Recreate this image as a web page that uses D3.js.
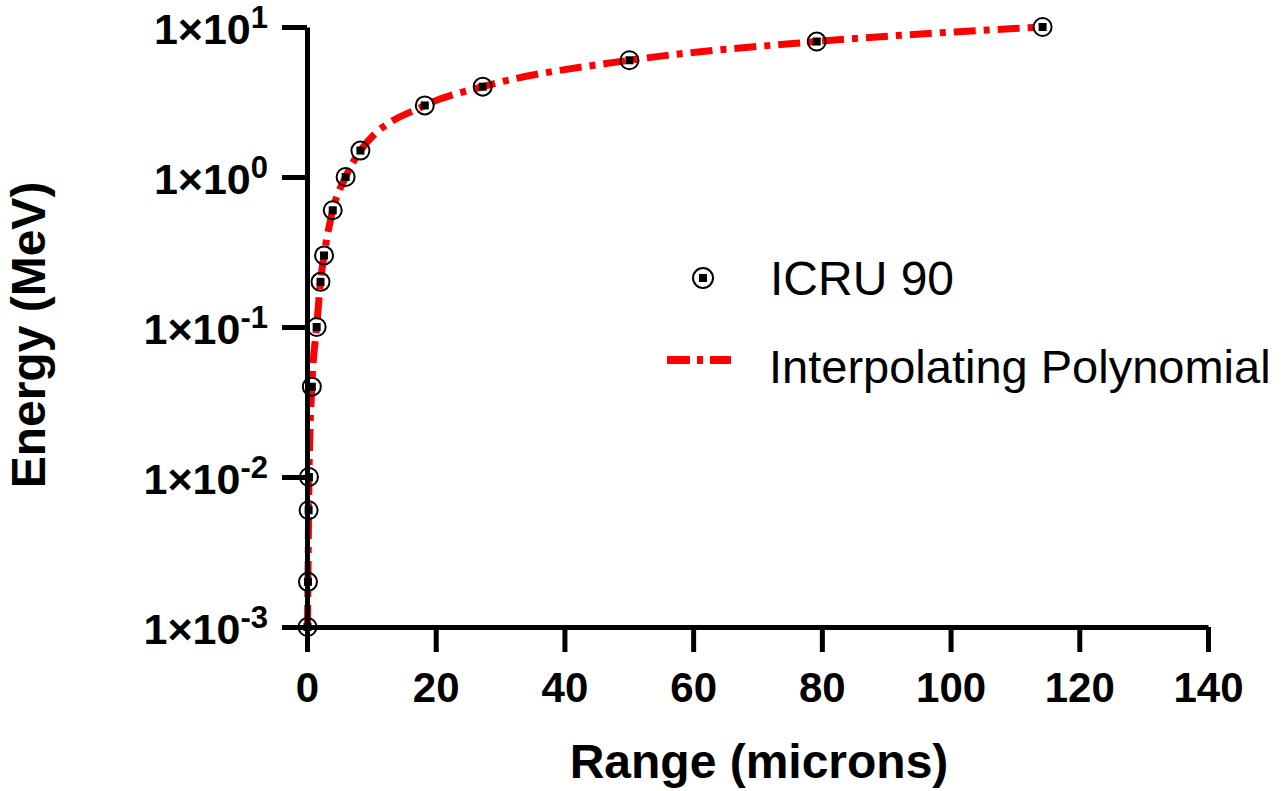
<!DOCTYPE html>
<html>
<head>
<meta charset="utf-8">
<script src="https://cdn.jsdelivr.net/npm/d3@7"></script>
<style>
  html, body { margin: 0; padding: 0; background: #fff; }
  svg { display: block; font-family: "Liberation Sans", Arial, Helvetica, sans-serif; }
</style>
</head>
<body>
<svg id="chart" width="1284" height="791"></svg>
<script>
// ---- Data ----
const energyMeV = [0.001, 0.002, 0.006, 0.01, 0.04, 0.1, 0.2, 0.3, 0.6, 1, 1.5, 3, 4, 6, 8, 10];
const rangeMicrons = [0.08, 0.15, 0.25, 0.3, 0.75, 1.5, 2.1, 2.65, 4.0, 6.0, 8.3, 18.3, 27.3, 50.1, 79.2, 114.3];
const xTicks = [0, 20, 40, 60, 80, 100, 120, 140];
const yTicks = [0.001, 0.01, 0.1, 1, 10];
const yTickExponents = ["-3", "-2", "-1", "0", "1"];
const seriesNames = ["ICRU 90", "Interpolating Polynomial"];

const points = energyMeV.map((e, i) => ({ e, r: rangeMicrons[i] }));

const svg = d3.select("#chart");
const x = d3.scaleLinear().domain([0, 140]).range([307, 1208]);
const y = d3.scaleLog().domain([0.001, 10]).range([627, 27]);

// Interpolating curve (under axes)
const line = d3.line()
  .x(d => x(d.r))
  .y(d => y(d.e))
  .curve(d3.curveMonotoneX);

svg.append("path")
  .datum(points)
  .attr("d", line)
  .attr("fill", "none")
  .attr("stroke", "#ff0000")
  .attr("stroke-width", 7)
  .attr("stroke-dasharray", "22,8,6,8");

// Axes
const xAxis = d3.axisBottom(x).tickValues(xTicks).tickSize(25).tickSizeOuter(0).tickPadding(10);
const yAxis = d3.axisLeft(y).tickValues(yTicks).tickSize(25).tickSizeOuter(0).tickPadding(14)
  .tickFormat(() => "");

const gx = svg.append("g").attr("transform", `translate(0,${y(0.001)})`).call(xAxis);
const gy = svg.append("g").attr("transform", `translate(${x(0)},0)`).call(yAxis);

[gx, gy].forEach(g => {
  g.select(".domain").attr("stroke", "#000").attr("stroke-width", 5);
  g.selectAll(".tick line").attr("stroke", "#000").attr("stroke-width", 5);
});

gx.selectAll(".tick text")
  .attr("fill", "#000")
  .attr("font-size", 42)
  .attr("font-weight", "bold")
  .attr("font-family", "'Liberation Sans', Arial, sans-serif")
  .attr("dy", "0.95em");

gy.selectAll(".tick text")
  .attr("fill", "#000")
  .attr("font-weight", "bold")
  .attr("font-family", "'Liberation Sans', Arial, sans-serif")
  .attr("dy", null)
  .attr("y", 16)
  .each(function(d, i) {
    const t = d3.select(this);
    t.text(null);
    t.append("tspan").attr("font-size", 43).text("1×10");
    t.append("tspan").attr("font-size", 31).attr("dy", -16).text(yTickExponents[i]);
  });

// Markers (on top of axes)
const mk = svg.append("g");
mk.selectAll("circle")
  .data(points)
  .join("circle")
  .attr("cx", d => x(d.r))
  .attr("cy", d => y(d.e))
  .attr("r", 9)
  .attr("fill", "none")
  .attr("stroke", "#000")
  .attr("stroke-width", 2);
mk.selectAll("rect")
  .data(points)
  .join("rect")
  .attr("x", d => x(d.r) - 4)
  .attr("y", d => y(d.e) - 4)
  .attr("width", 8)
  .attr("height", 8)
  .attr("fill", "#000");

// Axis titles
svg.append("text")
  .attr("x", 759).attr("y", 778)
  .attr("text-anchor", "middle")
  .attr("font-size", 48).attr("font-weight", "bold")
  .text("Range (microns)");

svg.append("text")
  .attr("transform", "translate(45,335) rotate(-90)")
  .attr("text-anchor", "middle")
  .attr("font-size", 48).attr("font-weight", "bold")
  .text("Energy (MeV)");

// Legend
const lg = svg.append("g");
lg.append("circle").attr("cx", 703).attr("cy", 278).attr("r", 10)
  .attr("fill", "none").attr("stroke", "#000").attr("stroke-width", 2);
lg.append("rect").attr("x", 699).attr("y", 274).attr("width", 8).attr("height", 8).attr("fill", "#000");
lg.append("text").attr("x", 770).attr("y", 295).attr("font-size", 48).text(seriesNames[0]);

lg.append("line").attr("x1", 667).attr("x2", 731).attr("y1", 360).attr("y2", 360)
  .attr("stroke", "#ff0000").attr("stroke-width", 8).attr("stroke-dasharray", "23,7,6,7");
lg.append("text").attr("x", 769).attr("y", 383).attr("font-size", 47).text(seriesNames[1]);
</script>
</body>
</html>
